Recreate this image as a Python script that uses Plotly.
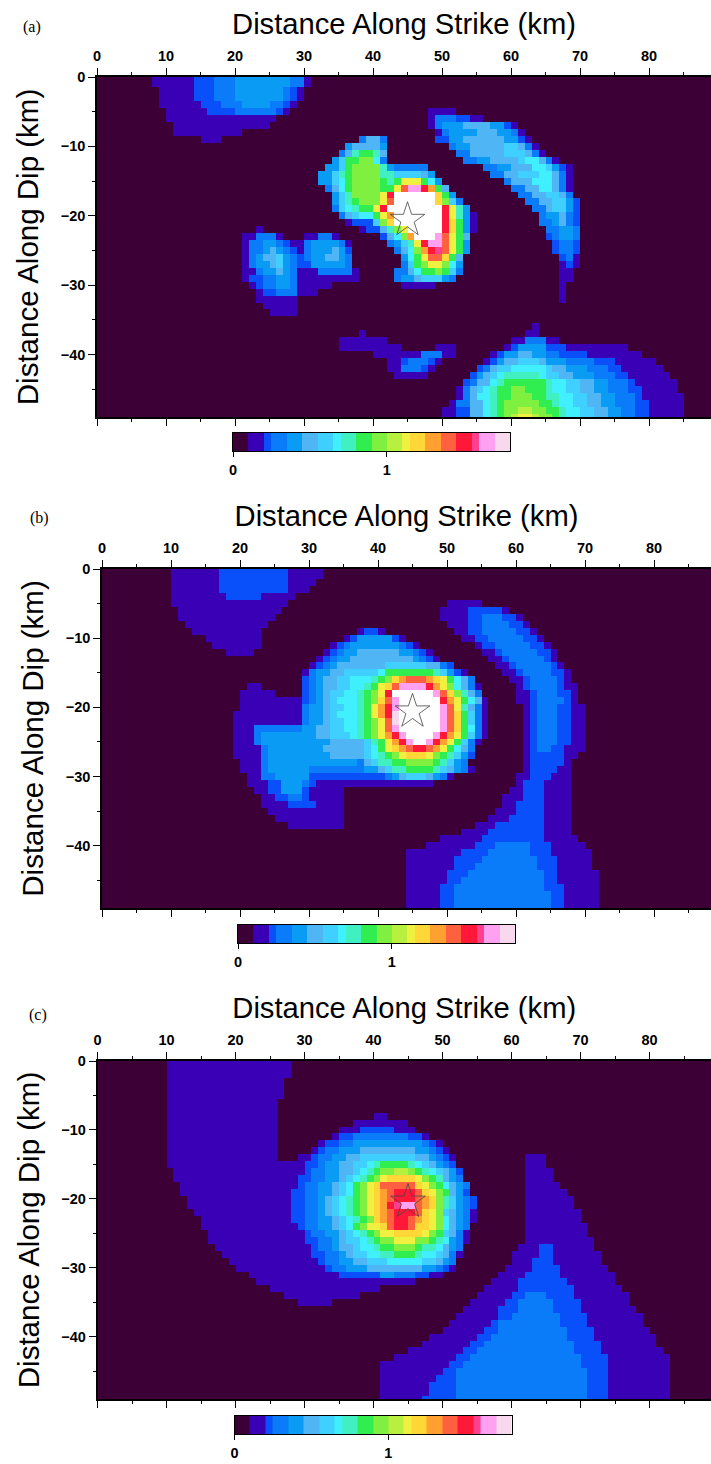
import plotly.graph_objects as go

W, H = 711, 1464
LEVEL_EDGES = [0, .1, .2, .25, .35, .45, .55, .65, .7, .8, .9, 1, 1.1, 1.15, 1.25, 1.35, 1.45, 1.55, 1.6, 1.7, 1.8, 2.2]
LEVEL_COLORS = ["#3d0036", "#3a00b5", "#0a50fa", "#0a7cfa", "#0a9cf5", "#4fb5f5", "#40d0ff", "#40f0ff",
                "#40f0c0", "#30ee50", "#80f040", "#b8f040", "#f0f040", "#ffd838", "#ffa030", "#ff6040",
                "#ff1838", "#ff4090", "#ffa0f0", "#f8d8ec", "#ffffff"]
LEVEL_CODES = "0123456789abcdefghijk"
CBAR_TICKS = [0, 1]
X_TICKS = [0, 10, 20, 30, 40, 50, 60, 70, 80]
Y_TICKS = [0, -10, -20, -30, -40]
STAR_X = [45, 45, 45]
STAR_Y = [-20.6, -20.6, -20.4]

# Each row: "level:start_km" tokens along strike, one row per km of dip.
RUPTURE_A = [
 "1:8 2:14 3:17 4:20 3:28 1:30 0:31",
 "1:8 2:14 3:17 4:20 3:28 1:30 0:31",
 "1:9 2:14 3:17 4:20 3:27 2:28 1:29 0:30",
 "1:9 2:14 3:17 4:20 3:27 2:28 1:29 0:30",
 "1:9 2:15 3:18 4:21 3:25 2:27 1:28 0:29",
 "1:10 2:16 3:20 2:26 1:27 0:28 1:48 0:52",
 "1:10 0:26 1:48 3:49 2:52 1:54 0:56",
 "1:11 0:25 1:48 3:49 4:50 5:53 4:57 2:59 1:60 0:61",
 "1:11 0:21 1:49 3:50 4:51 5:55 4:58 3:60 1:61 0:62",
 "1:15 0:18 3:38 5:39 3:41 0:42 2:49 4:51 5:53 4:59 2:61 1:62 0:63",
 "4:36 5:37 4:41 0:42 3:51 4:52 5:54 6:59 5:61 3:62 1:63 0:64",
 "3:35 5:36 8:37 9:38 8:40 5:41 0:42 3:52 5:54 6:59 5:62 3:63 1:64 0:65",
 "4:34 6:35 9:36 a:38 7:40 3:41 0:42 3:53 4:55 5:57 6:61 7:62 5:64 3:65 1:66 0:67",
 "4:33 6:35 9:36 a:37 8:41 4:42 3:43 0:48 3:56 4:58 5:60 7:63 6:65 4:66 2:67 1:68 0:69",
 "4:32 6:34 8:35 9:36 a:37 8:41 6:43 5:47 4:48 0:49 3:57 5:59 6:61 7:64 5:66 3:67 1:68 0:69",
 "4:32 6:34 7:35 9:36 a:37 9:41 8:42 9:43 c:44 9:47 7:48 4:49 0:50 3:59 5:60 7:63 5:66 3:67 1:68 0:69",
 "3:33 5:34 7:35 9:36 a:37 9:41 c:43 f:44 i:45 g:47 e:48 9:49 5:50 0:51 3:60 5:62 7:64 5:66 3:67 1:68 0:69",
 "4:34 6:35 8:36 a:37 c:41 g:42 k:43 d:49 9:50 4:51 0:52 3:61 5:63 6:65 5:67 3:68 0:69",
 "4:34 6:35 8:36 9:37 a:38 c:41 f:42 k:43 d:49 a:50 6:51 3:52 0:53 3:62 5:64 6:66 4:68 2:69 0:70",
 "3:34 6:35 7:36 8:37 9:38 c:40 g:41 k:42 g:50 c:51 8:52 4:53 0:54 3:63 5:65 6:66 4:68 2:69 0:70",
 "3:35 5:36 6:37 7:38 9:40 c:41 e:42 k:43 g:50 c:51 8:52 4:53 1:54 0:55 3:64 4:65 5:67 3:68 2:69 0:70",
 "1:36 2:37 6:40 a:41 d:42 k:43 g:50 d:51 9:52 4:53 1:54 0:55 3:64 4:66 5:67 3:68 2:69 0:70",
 "1:23 0:24 1:38 2:39 5:41 8:42 a:43 c:44 k:45 g:50 d:51 9:52 4:53 1:54 0:55 3:65 4:67 3:69 0:70",
 "1:21 3:23 1:26 0:27 1:30 3:32 1:34 0:35 2:41 5:42 7:43 a:44 e:45 k:46 i:49 f:50 c:51 9:52 5:53 0:54 2:65 3:66 4:67 3:69 0:70",
 "1:21 3:22 4:24 3:26 2:27 1:28 3:30 4:31 3:35 1:36 0:37 3:42 4:43 6:44 8:45 c:46 g:47 i:48 f:50 c:51 9:52 4:53 0:54 2:66 3:67 2:69 0:70",
 "1:21 3:22 4:24 5:25 4:26 3:27 2:28 1:29 3:30 4:31 5:34 4:35 2:36 0:37 3:43 5:44 7:45 a:46 e:47 g:48 h:49 f:50 c:51 9:52 4:53 0:54 2:66 3:67 2:69 0:70",
 "1:21 3:22 4:23 5:24 6:26 4:27 3:28 2:29 3:30 4:31 5:33 4:35 3:36 0:37 4:44 7:45 9:46 c:47 f:48 d:50 9:51 5:52 0:53 2:67 3:68 1:69 0:70",
 "1:21 3:22 4:23 5:25 6:26 4:27 3:28 2:29 4:31 3:36 0:37 3:44 6:45 9:46 a:47 c:48 a:50 7:51 4:52 0:53 1:67 2:68 1:69 0:70",
 "1:21 3:23 4:24 5:26 4:27 3:28 1:29 3:32 1:37 0:38 3:43 5:45 7:46 9:47 a:49 9:50 6:51 3:52 0:53 1:67 0:69",
 "1:21 2:22 3:24 4:26 3:28 1:29 0:38 3:43 4:44 5:46 6:47 4:50 3:51 0:52 1:67 0:69",
 "1:22 2:23 3:24 4:26 3:28 1:29 0:34 1:44 0:49 1:67 0:68",
 "1:23 2:24 3:26 1:29 0:32 1:67 0:68",
 "1:23 0:29 1:67 0:68",
 "1:24 0:29",
 "1:25 0:29",
 "0:0",
 "1:63 0:64",
 "1:38 0:39 1:62 0:64",
 "1:35 0:42 1:60 3:62 1:65 0:67",
 "1:35 0:44 1:49 0:52 1:59 2:60 4:61 2:65 1:68 0:77",
 "1:40 3:47 1:50 0:52 1:57 2:58 4:59 5:61 4:63 3:65 2:67 1:71 0:79",
 "1:42 2:44 3:45 2:48 1:49 0:50 1:56 2:57 4:58 5:59 6:61 5:64 4:65 3:68 2:72 1:75 0:81",
 "1:42 3:44 2:47 1:48 0:49 2:55 3:56 5:57 6:58 7:60 6:65 5:66 4:68 3:71 2:74 1:76 0:82",
 "1:43 0:48 2:54 4:55 5:56 6:57 7:58 8:59 7:64 6:65 5:67 4:69 3:72 2:75 1:77 0:83",
 "2:53 3:54 5:55 7:57 8:58 9:59 8:65 7:66 6:68 5:70 4:72 3:74 2:77 1:78 0:84",
 "1:52 3:53 5:54 6:55 7:56 8:57 9:58 a:60 9:62 8:65 7:66 6:68 5:70 4:72 3:74 2:77 1:79 0:84",
 "1:52 3:53 5:54 7:55 8:57 9:58 a:60 9:63 8:65 7:67 6:69 5:71 4:73 3:75 2:78 1:79 0:85",
 "1:51 3:52 5:54 7:56 8:57 9:58 a:59 9:64 8:66 7:67 6:69 5:71 4:73 3:75 2:78 1:80 0:85",
 "1:50 2:52 5:54 7:56 8:57 9:58 a:59 b:61 a:63 9:65 8:67 7:68 6:70 5:72 4:74 3:76 2:78 1:80 0:85",
 "1:50 2:52 5:54 7:56 8:57 9:58 a:59 b:60 c:61 b:63 a:64 9:66 8:67 7:68 6:70 5:72 4:74 3:76 2:78 1:80 0:85",
]

RUPTURE_B = [
 "1:10 2:17 1:27 0:32",
 "1:10 2:17 1:27 0:32",
 "1:10 2:17 1:27 0:31",
 "1:10 2:17 1:27 0:30",
 "1:10 2:18 1:23 0:28",
 "1:10 0:27 1:50 0:55",
 "1:11 0:26 1:49 2:53 1:58 0:59",
 "1:11 0:25 1:49 2:53 3:55 2:58 1:60 0:61",
 "1:12 0:24 1:50 2:53 3:55 2:59 1:61 0:62",
 "1:13 0:23 1:37 2:38 1:40 0:41 1:51 2:53 3:55 2:60 1:62 0:63",
 "1:15 0:23 1:35 2:36 4:37 2:42 1:43 0:44 1:52 2:54 3:56 2:61 1:63 0:64",
 "1:16 0:23 1:33 2:34 3:35 4:36 3:43 2:44 1:45 0:46 1:54 2:55 3:57 2:62 1:64 0:65",
 "1:18 0:22 1:32 2:33 3:34 4:35 5:37 4:43 3:45 2:46 1:47 0:48 1:55 2:57 3:58 2:63 1:65 0:66",
 "1:31 2:32 3:33 4:34 5:36 4:45 3:46 2:47 1:48 0:49 1:56 2:58 3:59 2:64 1:65 0:66",
 "1:30 2:31 3:32 4:33 5:34 6:41 5:47 3:49 2:50 0:51 1:57 2:59 3:60 2:65 1:66 0:67",
 "1:29 3:30 4:31 5:33 6:35 7:40 9:41 8:48 6:49 4:50 2:51 1:52 0:53 1:58 2:60 3:61 2:65 1:67 0:68",
 "2:29 3:30 4:31 5:32 6:34 7:36 8:39 9:40 a:41 d:42 e:43 f:44 e:47 d:48 c:49 9:50 7:51 5:52 3:53 0:54 1:59 2:61 3:62 2:66 1:67 0:68",
 "1:21 0:23 2:29 3:30 4:31 5:32 6:34 7:36 8:38 9:39 c:40 d:41 f:42 i:43 g:47 e:48 c:49 a:50 7:51 5:52 3:53 1:54 0:55 1:60 2:61 3:62 2:66 1:67 0:69",
 "1:20 0:25 2:29 3:30 4:31 5:32 6:33 7:35 8:37 9:38 a:39 c:40 g:41 k:42 i:48 f:49 d:50 a:51 8:52 5:53 3:54 0:55 1:60 2:62 3:63 2:66 1:68 0:69",
 "1:20 2:29 3:30 4:31 5:32 6:33 7:34 8:37 9:38 a:39 d:40 f:41 i:42 k:43 g:49 e:50 c:51 9:52 7:53 5:54 1:55 0:56 1:60 2:62 3:63 2:67 1:68 0:69",
 "1:20 3:29 4:30 5:32 6:33 7:35 8:37 9:38 c:39 e:40 g:41 i:42 k:43 i:49 f:50 c:51 8:52 5:53 3:54 1:55 0:56 1:61 2:62 3:63 2:66 1:68 0:70",
 "1:19 3:29 4:30 5:32 6:33 7:34 8:37 9:38 c:39 e:40 g:41 j:42 k:43 i:49 f:50 d:51 9:52 6:53 3:54 1:55 0:56 1:61 2:62 3:63 2:66 1:68 0:70",
 "1:19 3:29 4:30 5:32 6:33 7:35 8:37 9:38 a:39 c:40 f:41 j:42 k:43 i:49 f:50 d:51 9:52 6:53 3:54 1:55 0:56 1:61 2:62 3:63 2:66 1:68 0:70",
 "1:19 3:22 4:29 5:31 6:33 7:35 8:37 9:38 a:39 c:40 f:41 i:42 k:43 i:49 f:50 d:51 9:52 7:53 3:54 1:55 0:56 1:61 2:62 3:63 2:66 1:68 0:70",
 "1:19 3:22 4:23 5:31 6:33 7:36 8:37 9:38 a:39 c:40 e:41 g:42 i:43 k:44 i:48 g:49 e:50 c:51 9:52 6:53 3:54 1:55 0:56 1:61 2:62 3:63 2:66 1:68 0:70",
 "1:19 3:22 4:23 5:33 6:38 8:39 9:40 c:41 e:42 g:43 i:44 k:45 i:47 g:48 e:49 c:50 9:51 6:52 3:53 1:54 0:55 1:61 2:62 3:63 2:66 1:68 0:70",
 "1:19 3:23 4:24 5:32 6:38 7:39 9:40 c:41 d:42 e:43 f:44 g:45 f:47 e:48 c:49 9:50 7:51 5:52 3:53 0:54 1:61 2:62 3:63 2:65 1:67 0:70",
 "1:19 3:23 4:24 5:33 6:38 7:39 8:40 9:41 a:42 c:43 d:44 c:47 a:48 9:49 8:50 6:51 4:52 2:53 0:54 1:61 2:62 1:67 0:69",
 "1:20 3:23 4:24 3:37 5:38 6:39 8:40 9:42 a:44 9:48 8:49 6:50 4:51 3:52 0:53 1:61 2:62 1:67 0:68",
 "1:20 3:23 4:24 3:30 4:38 5:40 6:41 8:42 9:44 8:48 6:49 5:50 4:51 3:52 1:53 0:54 1:61 2:62 1:66 0:68",
 "1:21 3:23 4:25 2:30 3:41 4:42 5:43 6:44 5:47 4:48 3:49 1:50 0:51 1:60 2:62 1:65 0:68",
 "1:21 2:24 4:26 3:29 2:30 1:31 0:48 1:60 2:61 1:64 0:68",
 "1:22 2:24 4:26 2:29 1:30 0:35 1:59 2:61 1:64 0:68",
 "1:23 2:25 3:27 2:29 1:30 0:35 1:58 2:61 1:64 0:68",
 "1:23 2:27 1:31 0:35 1:58 2:60 1:64 0:68",
 "1:24 0:35 1:57 2:60 1:64 0:68",
 "1:25 0:35 1:56 2:59 1:64 0:68",
 "1:27 0:35 1:54 2:57 1:64 0:68",
 "1:52 2:56 1:64 0:68",
 "1:49 2:55 1:64 0:69",
 "1:47 2:54 3:57 2:62 1:65 0:70",
 "1:44 2:52 3:56 2:62 1:65 0:71",
 "1:44 2:51 3:55 2:63 1:66 0:71",
 "1:44 2:51 3:54 2:63 1:66 0:71",
 "1:44 2:50 3:53 2:64 1:66 0:72",
 "1:44 2:50 3:52 2:64 1:66 0:72",
 "1:44 2:49 3:51 2:64 1:67 0:72",
 "1:44 2:49 3:51 2:65 1:67 0:72",
 "1:44 2:49 3:51 2:65 1:67 0:72",
 "1:44 2:49 3:51 2:65 1:67 0:72",
]

RUPTURE_C = [
 "1:10 0:28",
 "1:10 0:28",
 "1:10 0:28",
 "1:10 0:27",
 "1:10 0:27",
 "1:10 0:27",
 "1:10 0:26",
 "1:10 0:26",
 "1:10 0:26 1:40 0:42",
 "1:10 0:26 1:37 0:45",
 "1:10 0:26 1:35 2:38 1:43 0:46",
 "1:10 0:26 1:34 2:35 3:37 2:45 1:47 0:48",
 "1:10 0:26 1:32 2:33 3:35 4:37 3:47 2:48 1:49 0:50",
 "1:10 0:26 1:31 2:32 3:33 4:35 5:38 4:46 3:48 2:49 1:50 0:51",
 "1:10 0:26 1:29 2:31 3:32 4:34 5:36 6:38 5:46 4:48 3:49 2:50 1:51 0:52 1:62 0:65",
 "1:10 2:30 3:32 4:33 5:35 6:37 7:39 8:40 9:41 8:45 7:46 6:47 5:48 4:49 3:50 2:51 0:52 1:62 0:65",
 "1:11 2:30 3:31 4:33 5:35 6:37 7:38 8:39 9:40 a:41 b:43 a:45 9:46 8:47 7:48 6:49 5:50 4:51 2:52 0:53 1:62 0:66",
 "1:11 2:29 3:31 4:33 5:35 6:36 7:37 8:38 9:39 a:40 c:41 d:42 c:46 a:47 9:48 8:49 5:50 4:51 3:52 0:53 1:62 0:66",
 "1:12 2:29 3:30 4:32 5:34 6:35 7:36 9:37 a:38 c:39 d:40 f:41 d:46 c:47 a:48 9:49 7:50 5:51 4:52 3:53 0:54 1:62 0:67",
 "1:12 2:28 3:30 4:32 5:34 6:35 7:36 9:37 a:38 c:39 d:40 e:41 f:42 g:43 f:46 d:47 c:48 a:49 9:50 5:51 4:52 2:53 0:54 1:62 0:68",
 "1:13 2:28 3:30 4:32 5:33 6:34 7:35 8:36 9:37 a:38 c:39 d:40 e:41 f:42 g:43 f:46 e:47 d:48 a:49 8:50 6:51 4:52 3:53 2:54 0:55 1:62 0:69",
 "1:13 2:28 3:30 4:32 5:33 6:34 7:35 8:36 9:37 a:38 c:39 d:40 e:41 g:42 h:43 i:44 f:46 e:47 d:48 a:49 8:50 6:51 4:52 3:53 2:54 0:55 1:62 0:69",
 "1:14 2:28 3:30 4:32 5:33 6:34 7:35 8:36 9:37 a:38 c:39 d:40 e:41 f:42 g:43 f:46 d:47 c:48 a:49 6:50 5:51 4:52 3:53 1:54 0:55 1:62 0:70",
 "1:15 2:28 3:30 4:32 5:34 6:35 7:36 8:37 9:38 a:39 d:40 e:41 f:42 g:43 f:45 e:46 d:47 c:48 a:49 7:50 5:51 4:52 3:53 1:54 0:55 1:62 0:70",
 "1:15 2:29 3:30 4:32 5:34 6:35 7:36 9:37 a:38 c:39 d:41 f:42 g:43 f:45 d:46 c:48 a:49 7:50 5:51 4:52 3:53 0:54 1:62 0:71",
 "1:16 2:30 3:31 4:33 5:35 6:36 7:37 8:38 9:39 a:40 c:41 d:43 c:47 a:48 9:49 6:50 5:51 3:52 1:53 0:54 1:62 0:71",
 "1:16 2:30 3:32 4:34 5:35 6:36 7:38 8:39 9:40 a:41 c:43 a:46 9:48 8:49 7:50 4:51 3:52 1:53 0:54 1:62 0:72",
 "1:17 2:31 3:32 4:34 5:35 6:37 7:38 8:40 9:41 a:43 9:46 8:47 7:49 5:50 4:51 3:52 0:53 1:61 2:64 1:66 0:72",
 "1:18 2:31 3:33 4:35 5:36 6:37 7:39 8:41 9:43 8:46 7:47 6:49 5:50 3:51 1:52 0:53 1:60 2:64 1:66 0:73",
 "1:19 2:32 3:33 4:35 5:37 6:39 7:42 6:47 5:49 4:50 3:51 0:52 1:60 2:63 1:66 0:73",
 "1:20 2:33 3:34 4:36 5:39 4:47 3:49 2:50 1:51 0:52 1:59 2:63 1:67 0:74",
 "1:22 2:35 4:41 3:43 2:46 1:48 0:50 1:58 2:62 1:67 0:75",
 "1:23 0:46 1:57 2:61 1:68 0:75",
 "1:25 0:41 1:56 2:61 1:69 0:76",
 "1:27 0:38 1:55 2:60 3:62 2:65 1:69 0:77",
 "1:29 0:34 1:54 2:59 3:61 2:66 1:70 0:77",
 "1:53 2:58 3:61 2:66 1:70 0:78",
 "1:52 2:58 3:60 2:67 1:71 0:79",
 "1:51 2:57 3:58 2:67 1:71 0:79",
 "1:50 2:56 3:58 2:68 1:72 0:80",
 "1:48 2:55 3:57 2:68 1:72 0:81",
 "1:47 2:54 3:56 2:69 1:73 0:81",
 "1:45 2:53 3:55 2:69 1:73 0:82",
 "1:43 2:52 3:54 2:70 1:74 0:83",
 "1:41 2:51 3:53 2:70 1:74 0:83",
 "1:41 2:50 3:52 2:71 1:74 0:83",
 "1:41 2:49 3:52 2:71 1:74 0:83",
 "1:41 2:48 3:52 2:71 1:74 0:83",
 "1:41 2:48 3:52 2:71 1:74 0:83",
 "1:41 2:47 3:52 2:71 1:74 0:83",
 "1:40 2:47 3:52 2:71 1:74 0:83",
]

MIDS = [(LEVEL_EDGES[i] + LEVEL_EDGES[i + 1]) / 2 for i in range(len(LEVEL_COLORS))]
N_COL = 90


def decode(rows):
    z = []
    for row in rows:
        vals = [MIDS[0]] * N_COL
        for tok in row.split():
            code, start = tok.split(":")
            start = int(start)
            vals[start:] = [MIDS[LEVEL_CODES.index(code)]] * (N_COL - start)
        z.append(vals)
    return z


zmax = LEVEL_EDGES[-1]
scale = []
for i, c in enumerate(LEVEL_COLORS):
    scale += [[LEVEL_EDGES[i] / zmax, c], [LEVEL_EDGES[i + 1] / zmax, c]]

PANELS = [
    dict(name="(a)", rows=RUPTURE_A, L=97, T=77, B=417, cL=233, cT=433, cB=451, lx=32, ly=27),
    dict(name="(b)", rows=RUPTURE_B, L=102, T=569, B=908, cL=238, cT=925, cB=943, lx=39, ly=518),
    dict(name="(c)", rows=RUPTURE_C, L=97.5, T=1061, B=1399, cL=234.5, cT=1416, cB=1434, lx=38, ly=1015),
]
PX_PER_KM = 6.9
LINE = dict(showline=True, linecolor="black", linewidth=1.5, mirror="ticks", ticks="outside",
            tickcolor="black", showgrid=False, zeroline=False)
TICKFONT = dict(family="Liberation Sans", size=14.5, color="black", weight="bold")

fig = go.Figure()
layout = {}
annots = []
for i, p in enumerate(PANELS):
    k = i * 2 + 1
    xn, yn = ("x" if k == 1 else f"x{k}"), ("y" if k == 1 else f"y{k}")
    xk, yk = ("xaxis" if k == 1 else f"xaxis{k}"), ("yaxis" if k == 1 else f"yaxis{k}")
    z = decode(p["rows"])
    fig.add_trace(go.Heatmap(z=z, x=[c + 0.5 for c in range(N_COL)], y=[-d for d in range(len(z))],
                             zmin=0, zmax=zmax, colorscale=scale, showscale=False, xaxis=xn, yaxis=yn,
                             hoverinfo="skip"))
    fig.add_trace(go.Scatter(x=[STAR_X[i]], y=[STAR_Y[i]], mode="markers", xaxis=xn, yaxis=yn, showlegend=False,
                             marker=dict(symbol="star-open", size=26, color="#444", line=dict(width=0.8, color="#444"))))
    layout[xk] = dict(LINE, domain=[p["L"] / W, 1], anchor=yn, side="top", range=[0, (W - p["L"]) / PX_PER_KM],
                      tickmode="array", tickvals=X_TICKS, ticklen=7, tickwidth=1.2, tickfont=TICKFONT,
                      ticklabelstandoff=1,
                      minor=dict(tickvals=[v + 5 for v in X_TICKS], ticks="outside", ticklen=3, tickcolor="black"),
                      title=dict(text="Distance Along Strike (km)", standoff=5,
                                 font=dict(family="Liberation Sans", size=29.2, color="black")))
    layout[yk] = dict(LINE, domain=[1 - p["B"] / H, 1 - p["T"] / H], anchor=xn, range=[-49, 0],
                      tickmode="array", tickvals=Y_TICKS, ticklen=7, tickwidth=1.2, tickfont=TICKFONT,
                      minor=dict(tickvals=[v - 5 for v in Y_TICKS], ticks="outside", ticklen=3, tickcolor="black"),
                      title=dict(text="Distance Along Dip (km)", standoff=13,
                                 font=dict(family="Liberation Sans", size=29.5, color="black")))
    k2 = k + 1
    xn2, yn2, xk2, yk2 = f"x{k2}", f"y{k2}", f"xaxis{k2}", f"yaxis{k2}"
    fig.add_trace(go.Heatmap(z=[MIDS[:20]], x=LEVEL_EDGES[:21], y=[0, 1], zmin=0, zmax=zmax, colorscale=scale,
                             showscale=False, xaxis=xn2, yaxis=yn2, hoverinfo="skip"))
    layout[xk2] = dict(domain=[p["cL"] / W, (p["cL"] + 277) / W], anchor=yn2, range=[0, 1.8], tickmode="array",
                       tickvals=CBAR_TICKS, ticks="outside", ticklen=5, tickwidth=1.2, tickcolor="black",
                       tickfont=TICKFONT, ticklabelstandoff=0, showline=True, linecolor="black", linewidth=1.2,
                       mirror=True, showgrid=False, zeroline=False)
    layout[yk2] = dict(domain=[1 - p["cB"] / H, 1 - p["cT"] / H], anchor=xn2, range=[0, 1], showticklabels=False,
                       ticks="", showline=True, linecolor="black", linewidth=1.2, mirror=True, showgrid=False,
                       zeroline=False)
    annots.append(dict(text=p["name"], xref="paper", yref="paper", x=p["lx"] / W, y=1 - p["ly"] / H, showarrow=False,
                       xanchor="center", yanchor="middle", font=dict(family="Liberation Serif", size=16, color="black")))

fig.update_layout(width=W, height=H, autosize=False, margin=dict(l=0, r=0, t=0, b=0, pad=0, autoexpand=False),
                  paper_bgcolor="white", plot_bgcolor="white", showlegend=False, annotations=annots,
                  shapes=[dict(type="rect", xref="paper", yref="paper", x0=0, x1=1, y0=1 - 985 / H, y1=1 - 967 / H,
                               fillcolor="white", line_width=0, layer="above")], **layout)
fig.write_html("out.html", config={"displayModeBar": False},
               post_script="document.body.style.margin='0';document.documentElement.style.overflow='hidden';")
